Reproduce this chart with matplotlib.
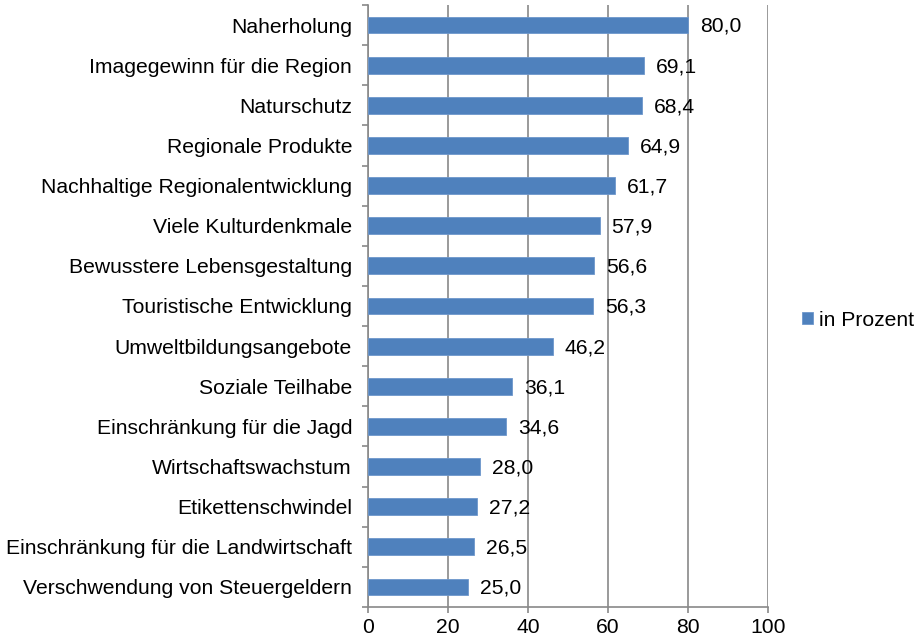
import numpy as np
import matplotlib.pyplot as plt

plt.rcParams['font.family'] = ['Liberation Sans', 'DejaVu Sans']

categories = ["Naherholung", "Imagegewinn für die Region", "Naturschutz",
              "Regionale Produkte", "Nachhaltige Regionalentwicklung",
              "Viele Kulturdenkmale", "Bewusstere Lebensgestaltung",
              "Touristische Entwicklung", "Umweltbildungsangebote",
              "Soziale Teilhabe", "Einschränkung für die Jagd",
              "Wirtschaftswachstum", "Etikettenschwindel",
              "Einschränkung für die Landwirtschaft",
              "Verschwendung von Steuergeldern"]
values = [80.0, 69.1, 68.4, 64.9, 61.7, 57.9, 56.6, 56.3, 46.2, 36.1,
          34.6, 28.0, 27.2, 26.5, 25.0]
xticks = [0, 20, 40, 60, 80, 100]

fs = 15.2
grey = '#898989'
fig = plt.figure(figsize=(9.16, 6.43), dpi=100)
ax = fig.add_axes([368 / 916, 36 / 643, 400 / 916, 602 / 643])

y = np.arange(len(categories))
bars = ax.barh(y, values, height=0.42, color='#4F81BD', edgecolor='#6D97CC',
               linewidth=0.6, label='in Prozent', zorder=3)
for yi, v in zip(y, values):
    ax.annotate(f"{v:.1f}".replace('.', ','), (v, yi), xytext=(8.5, -1),
                textcoords='offset points', va='center', ha='left', fontsize=fs)

ax.set_xlim(0, 100)
ax.set_ylim(len(categories) - 0.5, -0.5)
ax.set_xticks(xticks)
ax.set_xticklabels([str(t) for t in xticks], fontsize=fs)
ax.set_yticks(y)
ax.set_yticklabels(categories, fontsize=fs)
ax.set_yticks(np.arange(len(categories) + 1) - 0.5, minor=True)
ax.tick_params(axis='y', which='major', length=0, pad=11.5)
ax.tick_params(axis='y', which='minor', length=4, color=grey, width=1.2)
ax.tick_params(axis='x', length=4, color=grey, width=1.2, pad=4)
ax.xaxis.grid(True, color=grey, linewidth=1.2, zorder=0)
for s in ['top', 'right']:
    ax.spines[s].set_visible(False)
for s in ['left', 'bottom']:
    ax.spines[s].set_color(grey)
    ax.spines[s].set_linewidth(1.2)

fig.legend(handles=[bars], labels=['in Prozent'], loc='center left',
           bbox_to_anchor=(802 / 916, 1 - 320 / 643), frameon=False,
           fontsize=fs, handlelength=0.5, handleheight=0.5, handletextpad=0.3,
           borderpad=0, borderaxespad=0)

fig.savefig('out.png', dpi=100)
